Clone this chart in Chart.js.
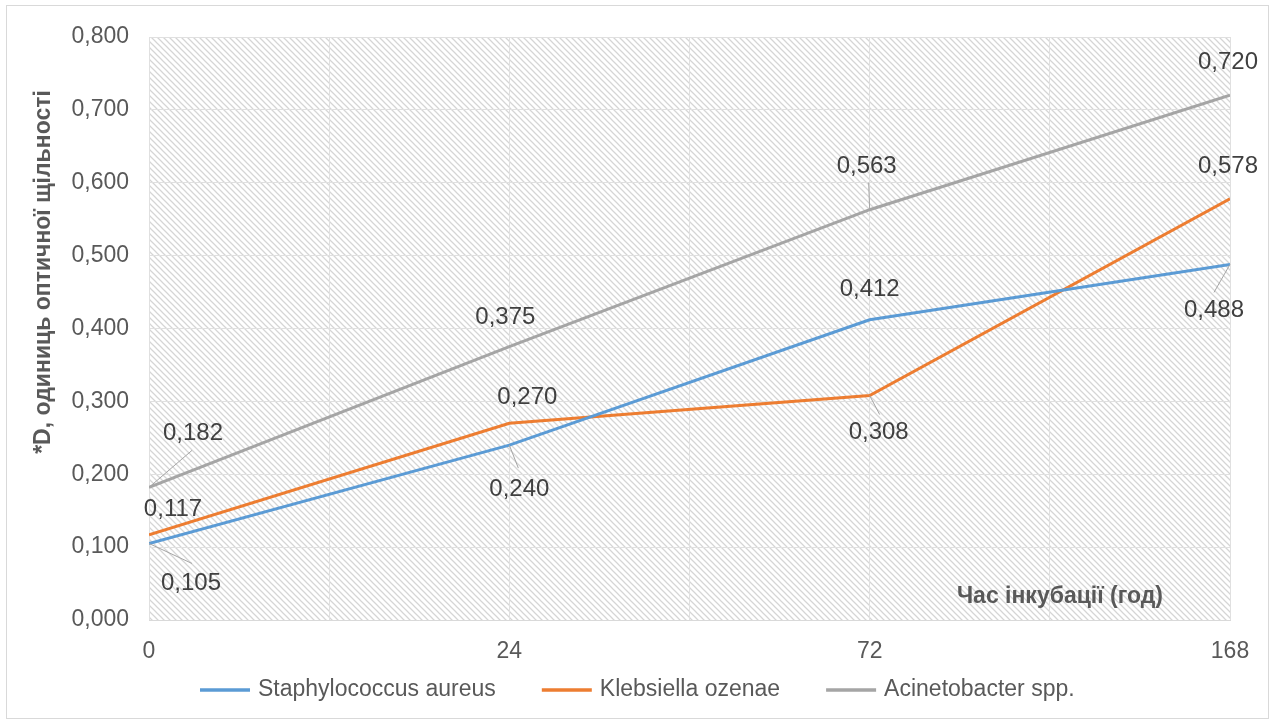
<!DOCTYPE html>
<html>
<head>
<meta charset="utf-8">
<script src="https://cdn.jsdelivr.net/npm/chart.js@4/dist/chart.umd.min.js"></script>
<style>
  html, body { margin: 0; padding: 0; background: #ffffff; }
  #wrap { width: 1277px; height: 724px; position: relative; }
</style>
</head>
<body>
<div id="wrap"><canvas id="c" width="1277" height="724"></canvas></div>
<script>
// Incubation time categories (hours)
const categories = ['0', '24', '72', '168'];

// Optical density readings per organism
const staphValues = [0.105, 0.240, 0.412, 0.488];
const klebsValues = [0.117, 0.270, 0.308, 0.578];
const acinValues  = [0.182, 0.375, 0.563, 0.720];

const seriesNames = ['Staphylococcus aureus', 'Klebsiella ozenae', 'Acinetobacter spp.'];
const yTickValues = [0, 0.1, 0.2, 0.3, 0.4, 0.5, 0.6, 0.7, 0.8];

const yTitle = '*D, одиниць оптичної щільності';
const xTitle = 'Час інкубації (год)';

// Value label placement: [dx, dy] of label centre from the point, and optional leader end
const labelOffsets = [
  [[42, 40], [10, 44], [0, -30], [-16, 46]],
  [[24, -25], [18, -26], [9, 37], [-2, -32]],
  [[44, -54], [-4, -29], [-3, -43], [-2, -33]]
];
const leaderEnds = [
  [[43, 20], [9, 23], null, [-16, 28]],
  [null, null, [10, 19], null],
  [[43, -37], null, [-1, -27], null]
];

const colors = ['#5B9BD5', '#ED7D31', '#A5A5A5'];
const textColor = '#595959';
const fontFamily = '"Liberation Sans", Arial, sans-serif';

function fmt(v) { return v.toFixed(3).replace('.', ','); }

function toPoints(values) {
  return values.map((v, i) => ({ x: i, y: v }));
}

// Light downward-diagonal hatch for the plot background
function hatchPattern(ctx) {
  const t = document.createElement('canvas');
  t.width = 6; t.height = 6;
  const g = t.getContext('2d');
  g.fillStyle = '#ffffff';
  g.fillRect(0, 0, 6, 6);
  g.strokeStyle = '#d5d5d5';
  g.lineWidth = 1.25;
  g.beginPath();
  g.moveTo(-1, -1); g.lineTo(7, 7);
  g.moveTo(-7, -1); g.lineTo(1, 7);
  g.moveTo(5, -1); g.lineTo(13, 7);
  g.stroke();
  return ctx.createPattern(t, 'repeat');
}

const decor = {
  id: 'decor',
  beforeDraw(chart) {
    const { ctx, chartArea: a } = chart;
    ctx.save();
    ctx.fillStyle = '#ffffff';
    ctx.fillRect(0, 0, chart.width, chart.height);
    ctx.fillStyle = hatchPattern(ctx);
    ctx.fillRect(a.left, a.top, a.right - a.left, a.bottom - a.top);
    ctx.strokeStyle = '#d9d9d9';
    ctx.lineWidth = 1;
    ctx.strokeRect(6.5, 5.5, 1262, 713);
    ctx.restore();
  },
  afterDatasetsDraw(chart) {
    const { ctx, chartArea: a } = chart;
    ctx.save();
    // value labels with leader lines
    chart.data.datasets.forEach((ds, di) => {
      const meta = chart.getDatasetMeta(di);
      meta.data.forEach((pt, i) => {
        const off = labelOffsets[di][i];
        const lead = leaderEnds[di][i];
        if (lead) {
          ctx.strokeStyle = '#a6a6a6';
          ctx.lineWidth = 1;
          ctx.beginPath();
          ctx.moveTo(pt.x, pt.y);
          ctx.lineTo(pt.x + lead[0], pt.y + lead[1]);
          ctx.stroke();
        }
        ctx.fillStyle = '#404040';
        ctx.font = '24px ' + fontFamily;
        ctx.textAlign = 'center';
        ctx.textBaseline = 'middle';
        ctx.fillText(fmt(ds.data[i].y), pt.x + off[0], pt.y + off[1]);
      });
    });
    // axis titles
    ctx.fillStyle = textColor;
    ctx.font = 'bold 23px ' + fontFamily;
    ctx.textAlign = 'right';
    ctx.textBaseline = 'middle';
    ctx.fillText(xTitle, a.right - 67, a.bottom - 23);
    ctx.translate(44, 272);
    ctx.rotate(-Math.PI / 2);
    ctx.textAlign = 'center';
    ctx.fillText(yTitle, 0, 0);
    ctx.restore();
    // legend
    ctx.save();
    ctx.font = '23px ' + fontFamily;
    ctx.textBaseline = 'middle';
    ctx.textAlign = 'left';
    let x0 = 200;
    const y0 = 690;
    chart.data.datasets.forEach((ds) => {
      ctx.strokeStyle = ds.borderColor;
      ctx.lineWidth = 3.5;
      ctx.beginPath();
      ctx.moveTo(x0, y0); ctx.lineTo(x0 + 50, y0);
      ctx.stroke();
      ctx.fillStyle = textColor;
      ctx.fillText(ds.label, x0 + 58, y0);
      x0 += 58 + ctx.measureText(ds.label).width + 46;
    });
    ctx.restore();
  }
};

const datasets = [staphValues, klebsValues, acinValues].map((vals, i) => ({
  label: seriesNames[i],
  data: toPoints(vals),
  borderColor: colors[i],
  backgroundColor: colors[i],
  borderWidth: 3,
  pointRadius: 0,
  tension: 0,
  fill: false
}));

new Chart(document.getElementById('c'), {
  type: 'line',
  data: { datasets },
  options: {
    responsive: false,
    animation: false,
    layout: { padding: { top: 37, right: 47, left: 0, bottom: 0 } },
    plugins: { legend: { display: false }, tooltip: { enabled: false } },
    scales: {
      x: {
        type: 'linear',
        min: 0,
        max: categories.length - 1,
        afterFit(s) { s.height = 104; },
        afterBuildTicks(s) {
          const t = [];
          for (let v = 0; v <= categories.length - 1; v += 0.5) t.push({ value: v });
          s.ticks = t;
        },
        ticks: {
          autoSkip: false,
          maxRotation: 0,
          padding: 18,
          color: textColor,
          font: { size: 23, family: fontFamily },
          callback(v) { return Number.isInteger(v) ? categories[v] : ''; }
        },
        grid: { color: '#e0e0e0', lineWidth: 1, drawTicks: false },
        border: { color: '#d9d9d9' }
      },
      y: {
        min: 0,
        max: 0.8,
        afterFit(s) { s.width = 149; },
        afterBuildTicks(s) { s.ticks = yTickValues.map(v => ({ value: v })); },
        ticks: {
          padding: 20,
          color: textColor,
          font: { size: 23, family: fontFamily },
          callback(v) { return fmt(v); }
        },
        grid: { color: '#e0e0e0', lineWidth: 1, drawTicks: false },
        border: { display: false }
      }
    }
  },
  plugins: [decor]
});
</script>
</body>
</html>
